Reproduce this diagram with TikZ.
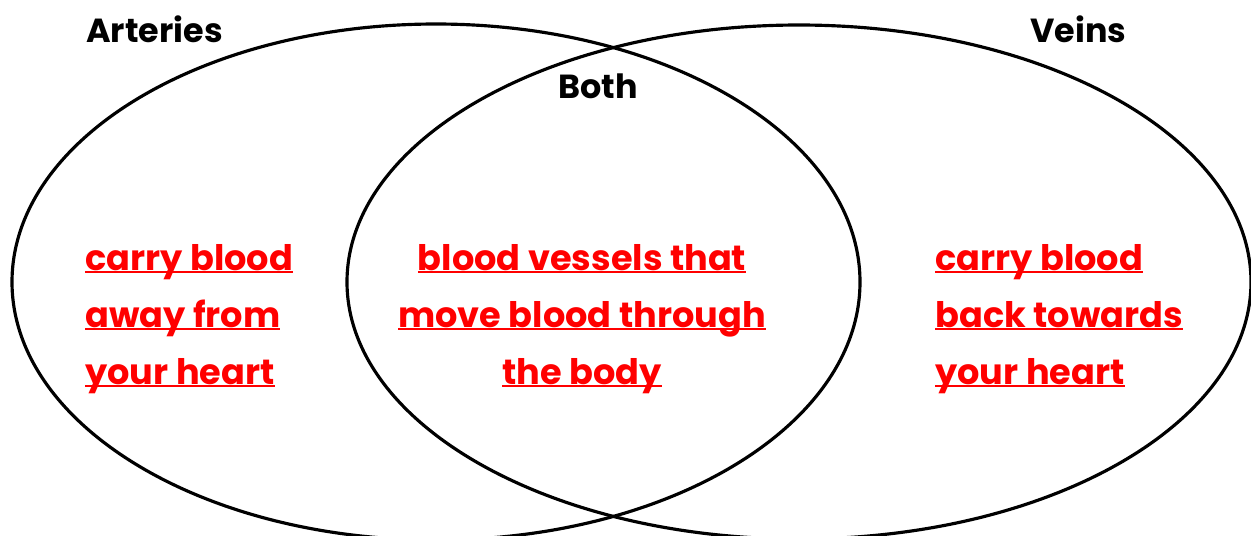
\documentclass[tikz,border=0pt]{standalone}
\usepackage{fontspec}
\setmainfont{Poppins}
\usepackage{xcolor}
\definecolor{vnred}{RGB}{255,0,0}
\usetikzlibrary{positioning}

% underline that runs just below the baseline, through the descenders
\newcommand{\uline}[1]{\setbox0\hbox{#1}\rlap{\rule[-0.09em]{\wd0}{0.055em}}\box0}

\tikzset{
  setring/.style={draw=black, line width=1.8pt},
  heading/.style={font=\fontsize{19}{24}\selectfont\bfseries, inner sep=0pt},
  fact/.style={font=\fontsize{20}{32.4}\selectfont\bfseries, text=vnred, inner sep=0pt}
}

\begin{document}
\begin{tikzpicture}[x=0.02cm, y=-0.02cm]
  \useasboundingbox (0,0) rectangle (1251,535);
  % the two sets
  \draw[setring] (436,282) ellipse [x radius=424, y radius=258];
  \draw[setring] (799,282) ellipse [x radius=452, y radius=257];
  % set labels
  \node[heading, anchor=base west] (arteries) at (86,42) {Arteries};
  \node[heading, anchor=base west] (veins) at (1030,42) {Veins};
  \node[heading, anchor=base west] (both) at (558,98) {Both};
  % facts (anchor sits on the last line)
  \node[fact, anchor=base west, align=left] (artfact) at (85,384)
    {\uline{carry blood}\\\uline{away from}\\\uline{your heart}};
  \node[fact, anchor=base, align=center] (bothfact) at (582,384)
    {\uline{blood vessels that}\\\uline{move blood through}\\\uline{the body}};
  \node[fact, anchor=base west, align=left] (veinfact) at (935,384)
    {\uline{carry blood}\\\uline{back towards}\\\uline{your heart}};
\end{tikzpicture}
\end{document}
